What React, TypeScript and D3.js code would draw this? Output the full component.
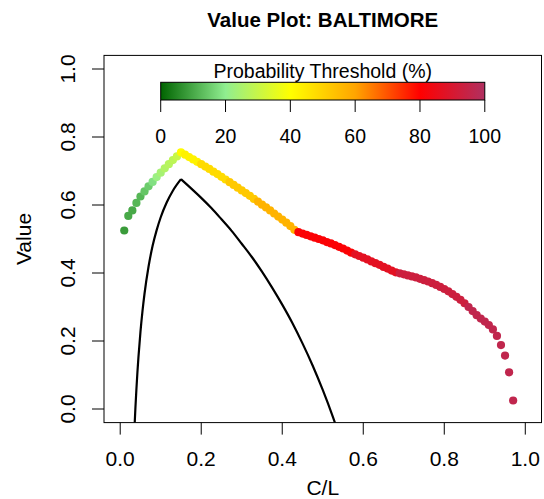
import React from "react";
import * as d3 from "d3";

const W = 544;
const H = 499;

// C/L sampling points of the envelope
const clValues = [
  0.01, 0.02, 0.03, 0.04, 0.05, 0.06, 0.07, 0.08, 0.09, 0.1,
  0.11, 0.12, 0.13, 0.14, 0.15, 0.16, 0.17, 0.18, 0.19, 0.2,
  0.21, 0.22, 0.23, 0.24, 0.25, 0.26, 0.27, 0.28, 0.29, 0.3,
  0.31, 0.32, 0.33, 0.34, 0.35, 0.36, 0.37, 0.38, 0.39, 0.4,
  0.41, 0.42, 0.43, 0.44, 0.45, 0.46, 0.47, 0.48, 0.49, 0.5,
  0.51, 0.52, 0.53, 0.54, 0.55, 0.56, 0.57, 0.58, 0.59, 0.6,
  0.61, 0.62, 0.63, 0.64, 0.65, 0.66, 0.67, 0.68, 0.69, 0.7,
  0.71, 0.72, 0.73, 0.74, 0.75, 0.76, 0.77, 0.78, 0.79, 0.8,
  0.81, 0.82, 0.83, 0.84, 0.85, 0.86, 0.87, 0.88, 0.89, 0.9,
  0.91, 0.92, 0.93, 0.94, 0.95, 0.96, 0.97,
];

// Maximum value at each C/L
const envelopeValues = [
  0.525, 0.568, 0.584, 0.606, 0.625, 0.64, 0.655, 0.668, 0.682, 0.695,
  0.708, 0.72, 0.732, 0.743, 0.755, 0.748, 0.741, 0.734, 0.727, 0.72,
  0.713, 0.706, 0.698, 0.691, 0.683, 0.675, 0.667, 0.659, 0.651, 0.643,
  0.635, 0.627, 0.618, 0.61, 0.601, 0.593, 0.584, 0.575, 0.566, 0.557,
  0.548, 0.538, 0.527, 0.52, 0.516, 0.512, 0.508, 0.504, 0.5, 0.496,
  0.491, 0.487, 0.482, 0.477, 0.472, 0.466, 0.46, 0.455, 0.45, 0.445,
  0.44, 0.434, 0.429, 0.424, 0.418, 0.413, 0.407, 0.402, 0.399, 0.396,
  0.393, 0.39, 0.387, 0.383, 0.379, 0.375, 0.37, 0.365, 0.359, 0.353,
  0.346, 0.338, 0.33, 0.321, 0.311, 0.3, 0.288, 0.276, 0.266, 0.257,
  0.247, 0.234, 0.215, 0.188, 0.157, 0.108, 0.025,
];

// Probability threshold (%) giving the maximum value
const thresholdValues = [
  8, 10, 10, 12, 12, 14, 15, 18, 22, 24,
  26, 27, 28, 30, 41, 43, 43, 43, 43, 48,
  48, 48, 48, 48, 48, 48, 52, 52, 52, 52,
  52, 52, 52, 57, 57, 57, 57, 57, 57, 57,
  57, 57, 57, 81, 81, 81, 81, 81, 81, 81,
  81, 81, 81, 81, 81, 81, 81, 87, 87, 87,
  87, 87, 87, 87, 87, 87, 87, 87, 93, 93,
  93, 93, 93, 93, 93, 93, 93, 93, 93, 93,
  93, 93, 93, 93, 93, 96, 96, 96, 96, 96,
  96, 96, 96, 96, 96, 96, 96,
];

// Value curve of the deterministic forecast (two branches meeting at the peak)
const curveLeftCL = [0.035, 0.0375, 0.04, 0.0425, 0.045, 0.05, 0.055, 0.06, 0.07, 0.08, 0.09, 0.1, 0.115, 0.13, 0.15];
const curveLeftV = [-0.062, 0.002, 0.058, 0.108, 0.152, 0.227, 0.288, 0.339, 0.419, 0.48, 0.526, 0.564, 0.608, 0.642, 0.676];
const curveRightCL = [0.15, 0.175, 0.2, 0.225, 0.25, 0.275, 0.3, 0.325, 0.35, 0.375, 0.4, 0.425, 0.45, 0.475, 0.5, 0.525, 0.55];
const curveRightV = [0.676, 0.649, 0.621, 0.591, 0.558, 0.524, 0.486, 0.447, 0.404, 0.357, 0.307, 0.253, 0.193, 0.128, 0.056, -0.023, -0.111];

const xTicks = [0, 0.2, 0.4, 0.6, 0.8, 1.0];
const yTicks = [0, 0.2, 0.4, 0.6, 0.8, 1.0];
const legendTicks = [0, 20, 40, 60, 80, 100];
const legendColors = ["#006400", "#90EE90", "#FFFF00", "#FFA500", "#FF0000", "#B03060"];
// colour bar spans these C/L coordinates inside the plot
const legendSpan = [0.1, 0.9];

const plotLeft = 104;
const plotRight = 541.5;
const plotTop = 55.4;
const plotBottom = 422.6;

const FONT = "'Liberation Sans', Arial, Helvetica, sans-serif";

export default function App() {
  const x = d3.scaleLinear().domain([-0.04, 1.04]).range([plotLeft, plotRight]);
  const y = d3.scaleLinear().domain([-0.04, 1.04]).range([plotBottom, plotTop]);
  const color = d3
    .scaleLinear<string>()
    .domain(legendTicks)
    .range(legendColors)
    .interpolate(d3.interpolateRgb);

  const lx = d3.scaleLinear().domain([0, 100]).range([x(legendSpan[0]), x(legendSpan[1])]);
  const barTop = 82.3;
  const barBottom = 100;

  const line = d3
    .line<[number, number]>()
    .x((d) => x(d[0]))
    .y((d) => y(d[1]))
    .curve(d3.curveMonotoneX);

  const leftPts = curveLeftCL.map((c, i) => [c, curveLeftV[i]] as [number, number]);
  const rightPts = curveRightCL.map((c, i) => [c, curveRightV[i]] as [number, number]);

  const plotCX = (plotLeft + plotRight) / 2;
  const axisFont = 21;

  return (
    <svg
      width={W}
      height={H}
      style={{ position: "absolute", left: 0, top: 0, display: "block", background: "#fff" }}
      fontFamily={FONT}
    >
      <defs>
        <clipPath id="plotClip">
          <rect x={plotLeft} y={plotTop} width={plotRight - plotLeft} height={plotBottom - plotTop} />
        </clipPath>
        <linearGradient id="legendGrad" x1="0" x2="1" y1="0" y2="0">
          {legendTicks.map((t, i) => (
            <stop key={i} offset={`${t}%`} stopColor={legendColors[i]} />
          ))}
        </linearGradient>
      </defs>

      {/* Title */}
      <text x={plotCX} y={27} textAnchor="middle" fontWeight="bold" fontSize={20.5} fill="#000">
        Value Plot: BALTIMORE
      </text>

      {/* Points and value curve */}
      <g clipPath="url(#plotClip)">
        {clValues.map((c, i) => (
          <circle key={i} cx={x(c)} cy={y(envelopeValues[i])} r={4.1} fill={color(thresholdValues[i])} />
        ))}
        <path d={line(leftPts) || ""} fill="none" stroke="#000" strokeWidth={2.2} />
        <path d={line(rightPts) || ""} fill="none" stroke="#000" strokeWidth={2.2} />
      </g>

      {/* Box */}
      <rect
        x={plotLeft}
        y={plotTop}
        width={plotRight - plotLeft}
        height={plotBottom - plotTop}
        fill="none"
        stroke="#000"
        strokeWidth={1}
      />

      {/* X axis */}
      {xTicks.map((t) => (
        <g key={`x${t}`}>
          <line x1={x(t)} x2={x(t)} y1={plotBottom} y2={plotBottom + 12} stroke="#000" strokeWidth={1} />
          <text x={x(t)} y={466} textAnchor="middle" fontSize={axisFont} fill="#000">
            {t.toFixed(1)}
          </text>
        </g>
      ))}
      <text x={plotCX} y={495} textAnchor="middle" fontSize={axisFont} fill="#000">
        C/L
      </text>

      {/* Y axis */}
      {yTicks.map((t) => (
        <g key={`y${t}`}>
          <line x1={plotLeft - 12} x2={plotLeft} y1={y(t)} y2={y(t)} stroke="#000" strokeWidth={1} />
          <text
            transform={`translate(75,${y(t)}) rotate(-90)`}
            textAnchor="middle"
            fontSize={axisFont}
            fill="#000"
          >
            {t.toFixed(1)}
          </text>
        </g>
      ))}
      <text
        transform={`translate(31,${(plotTop + plotBottom) / 2}) rotate(-90)`}
        textAnchor="middle"
        fontSize={axisFont}
        fill="#000"
      >
        Value
      </text>

      {/* Legend colour bar */}
      <text x={(lx(0) + lx(100)) / 2} y={78} textAnchor="middle" fontSize={19.5} fill="#000">
        Probability Threshold (%)
      </text>
      <rect
        x={lx(0)}
        y={barTop}
        width={lx(100) - lx(0)}
        height={barBottom - barTop}
        fill="url(#legendGrad)"
        stroke="#000"
        strokeWidth={1}
      />
      {legendTicks.map((t) => (
        <g key={`l${t}`}>
          <line x1={lx(t)} x2={lx(t)} y1={barBottom} y2={barBottom + 12} stroke="#000" strokeWidth={1} />
          <text x={lx(t)} y={143} textAnchor="middle" fontSize={19.5} fill="#000">
            {t}
          </text>
        </g>
      ))}
    </svg>
  );
}
